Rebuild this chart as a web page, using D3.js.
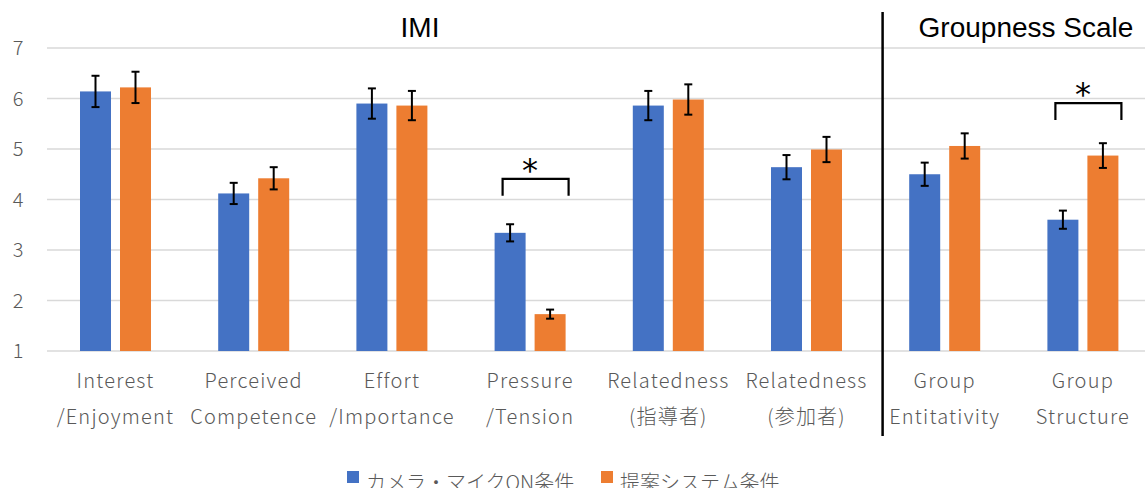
<!DOCTYPE html>
<html>
<head>
<meta charset="utf-8">
<script src="https://cdn.jsdelivr.net/npm/d3@7"></script>
<style>
  body { margin: 0; background: #fff; }
  svg text { font-family: "Noto Sans CJK JP", "Noto Sans", sans-serif; }
  svg text.title { font-family: "Liberation Sans", Arial, sans-serif; }
  svg text.star { font-family: "DejaVu Sans", sans-serif; }
</style>
</head>
<body>
<div id="chart"></div>
<script>
// data
const categories = [
    ['Interest', '/Enjoyment'],
    ['Perceived', 'Competence'],
    ['Effort', '/Importance'],
    ['Pressure', '/Tension'],
    ['Relatedness', '(指導者)'],
    ['Relatedness', '(参加者)'],
    ['Group', 'Entitativity'],
    ['Group', 'Structure']
];
const seriesNames = ['カメラ・マイクON条件', '提案システム条件'];
const cameraMean = [6.14, 4.12, 5.90, 3.34, 5.86, 4.64, 4.50, 3.60];
const cameraErr  = [0.31, 0.21, 0.30, 0.17, 0.29, 0.24, 0.23, 0.18];
const systemMean = [6.22, 4.42, 5.86, 1.73, 5.98, 4.99, 5.06, 4.87];
const systemErr  = [0.31, 0.22, 0.29, 0.09, 0.30, 0.25, 0.25, 0.245];
const yTicks = [1, 2, 3, 4, 5, 6, 7];
const sigPairs = [3, 7];
const sigLevel = [4.41, 5.91];   // height of the bracket, in scale units
const groupTitles = ['IMI', 'Groupness Scale'];
const colors = ['#4472C4', '#ED7D31'];

const width = 1145, height = 488;

const svg = d3.select('#chart').append('svg')
    .attr('width', width)
    .attr('height', height);

const idx = d3.range(categories.length);

const x0 = d3.scaleBand()
    .domain(idx)
    .range([46.4, 1152])
    .padding(0);

const x1 = d3.scaleBand()
    .domain([0, 1])
    .range([33.6, 104.6])
    .paddingInner(0.225)
    .paddingOuter(0);

const y = d3.scaleLinear()
    .domain([1, 7])
    .range([351, 48]);

// gridlines
svg.append('g')
    .selectAll('line')
    .data(yTicks)
    .enter().append('line')
    .attr('x1', 47)
    .attr('x2', width)
    .attr('y1', d => y(d))
    .attr('y2', d => y(d))
    .attr('stroke', '#D9D9D9')
    .attr('stroke-width', 1.3);

// y tick labels
svg.append('g')
    .selectAll('text')
    .data(yTicks)
    .enter().append('text')
    .attr('x', 18)
    .attr('y', d => y(d) + 7)
    .attr('text-anchor', 'middle')
    .attr('font-size', 20)
    .attr('font-weight', 300)
    .attr('fill', '#595959')
    .text(d => d);

const rows = idx.map(i => [
    { s: 0, i: i, v: cameraMean[i], e: cameraErr[i] },
    { s: 1, i: i, v: systemMean[i], e: systemErr[i] }
]);

const groups = svg.append('g')
    .selectAll('g')
    .data(rows)
    .enter().append('g')
    .attr('transform', (d, i) => `translate(${x0(i)},0)`);

groups.selectAll('rect')
    .data(d => d)
    .enter().append('rect')
    .attr('x', d => x1(d.s))
    .attr('width', x1.bandwidth())
    .attr('y', d => y(d.v))
    .attr('height', d => y(1) - y(d.v))
    .attr('fill', d => colors[d.s]);

// error bars
const eb = groups.selectAll('g.err')
    .data(d => d)
    .enter().append('g')
    .attr('class', 'err')
    .attr('stroke', '#000')
    .attr('stroke-width', 2);

eb.append('line')
    .attr('x1', d => x1(d.s) + x1.bandwidth() / 2)
    .attr('x2', d => x1(d.s) + x1.bandwidth() / 2)
    .attr('y1', d => y(d.v + d.e))
    .attr('y2', d => y(d.v - d.e));

eb.selectAll('line.cap')
    .data(d => [d.v + d.e, d.v - d.e].map(t => ({ s: d.s, t: t })))
    .enter().append('line')
    .attr('class', 'cap')
    .attr('x1', d => x1(d.s) + x1.bandwidth() / 2 - 4)
    .attr('x2', d => x1(d.s) + x1.bandwidth() / 2 + 4)
    .attr('y1', d => y(d.t))
    .attr('y2', d => y(d.t));

// category labels
const lab = svg.append('g')
    .selectAll('text')
    .data(categories)
    .enter().append('text')
    .attr('x', (d, i) => x0(i) + x0.bandwidth() / 2)
    .attr('text-anchor', 'middle')
    .attr('font-size', 20)
    .attr('font-weight', 300)
    .attr('letter-spacing', 1.2)
    .attr('fill', '#595959');

lab.append('tspan')
    .attr('x', (d, i) => x0(i) + x0.bandwidth() / 2)
    .attr('y', 388)
    .text(d => d[0]);

lab.append('tspan')
    .attr('x', (d, i) => x0(i) + x0.bandwidth() / 2)
    .attr('y', 424)
    .text(d => d[1]);

// significance brackets
const sig = svg.append('g')
    .selectAll('g')
    .data(sigPairs)
    .enter().append('g');

sig.append('path')
    .attr('d', (i, k) => {
        const l = x0(i) + x1(0) + 8, r = x0(i) + x1(1) + x1.bandwidth() + 3;
        const top = y(sigLevel[k]);
        return `M${l},${top + 17}V${top}H${r}V${top + 17}`;
    })
    .attr('fill', 'none')
    .attr('stroke', '#000')
    .attr('stroke-width', 2.2);

sig.append('text')
    .attr('class', 'star')
    .attr('x', i => x0(i) + x0.bandwidth() / 2)
    .attr('y', (i, k) => y(sigLevel[k]) + 2)
    .attr('text-anchor', 'middle')
    .attr('font-size', 32)
    .attr('fill', '#000')
    .text('*');

// divider between IMI and Groupness Scale
svg.append('line')
    .attr('x1', x0(6) + 7)
    .attr('x2', x0(6) + 7)
    .attr('y1', 12)
    .attr('y2', 436)
    .attr('stroke', '#000')
    .attr('stroke-width', 2.5);

// group titles
svg.append('g')
    .selectAll('text')
    .data(groupTitles)
    .enter().append('text')
    .attr('class', 'title')
    .attr('x', (d, i) => i === 0 ? 420 : 1026)
    .attr('y', 37)
    .attr('text-anchor', 'middle')
    .attr('font-size', 28)
    .attr('fill', '#000')
    .text(d => d);

// legend
const legend = svg.append('g')
    .selectAll('g')
    .data(seriesNames)
    .enter().append('g')
    .attr('transform', (d, i) => `translate(${i === 0 ? 347 : 601},471)`);

legend.append('rect')
    .attr('width', 12)
    .attr('height', 12)
    .attr('fill', (d, i) => colors[i]);

legend.append('text')
    .attr('x', 19)
    .attr('y', 19)
    .attr('font-size', 20)
    .attr('font-weight', 300)
    .attr('fill', '#595959')
    .text(d => d);
</script>
</body>
</html>
